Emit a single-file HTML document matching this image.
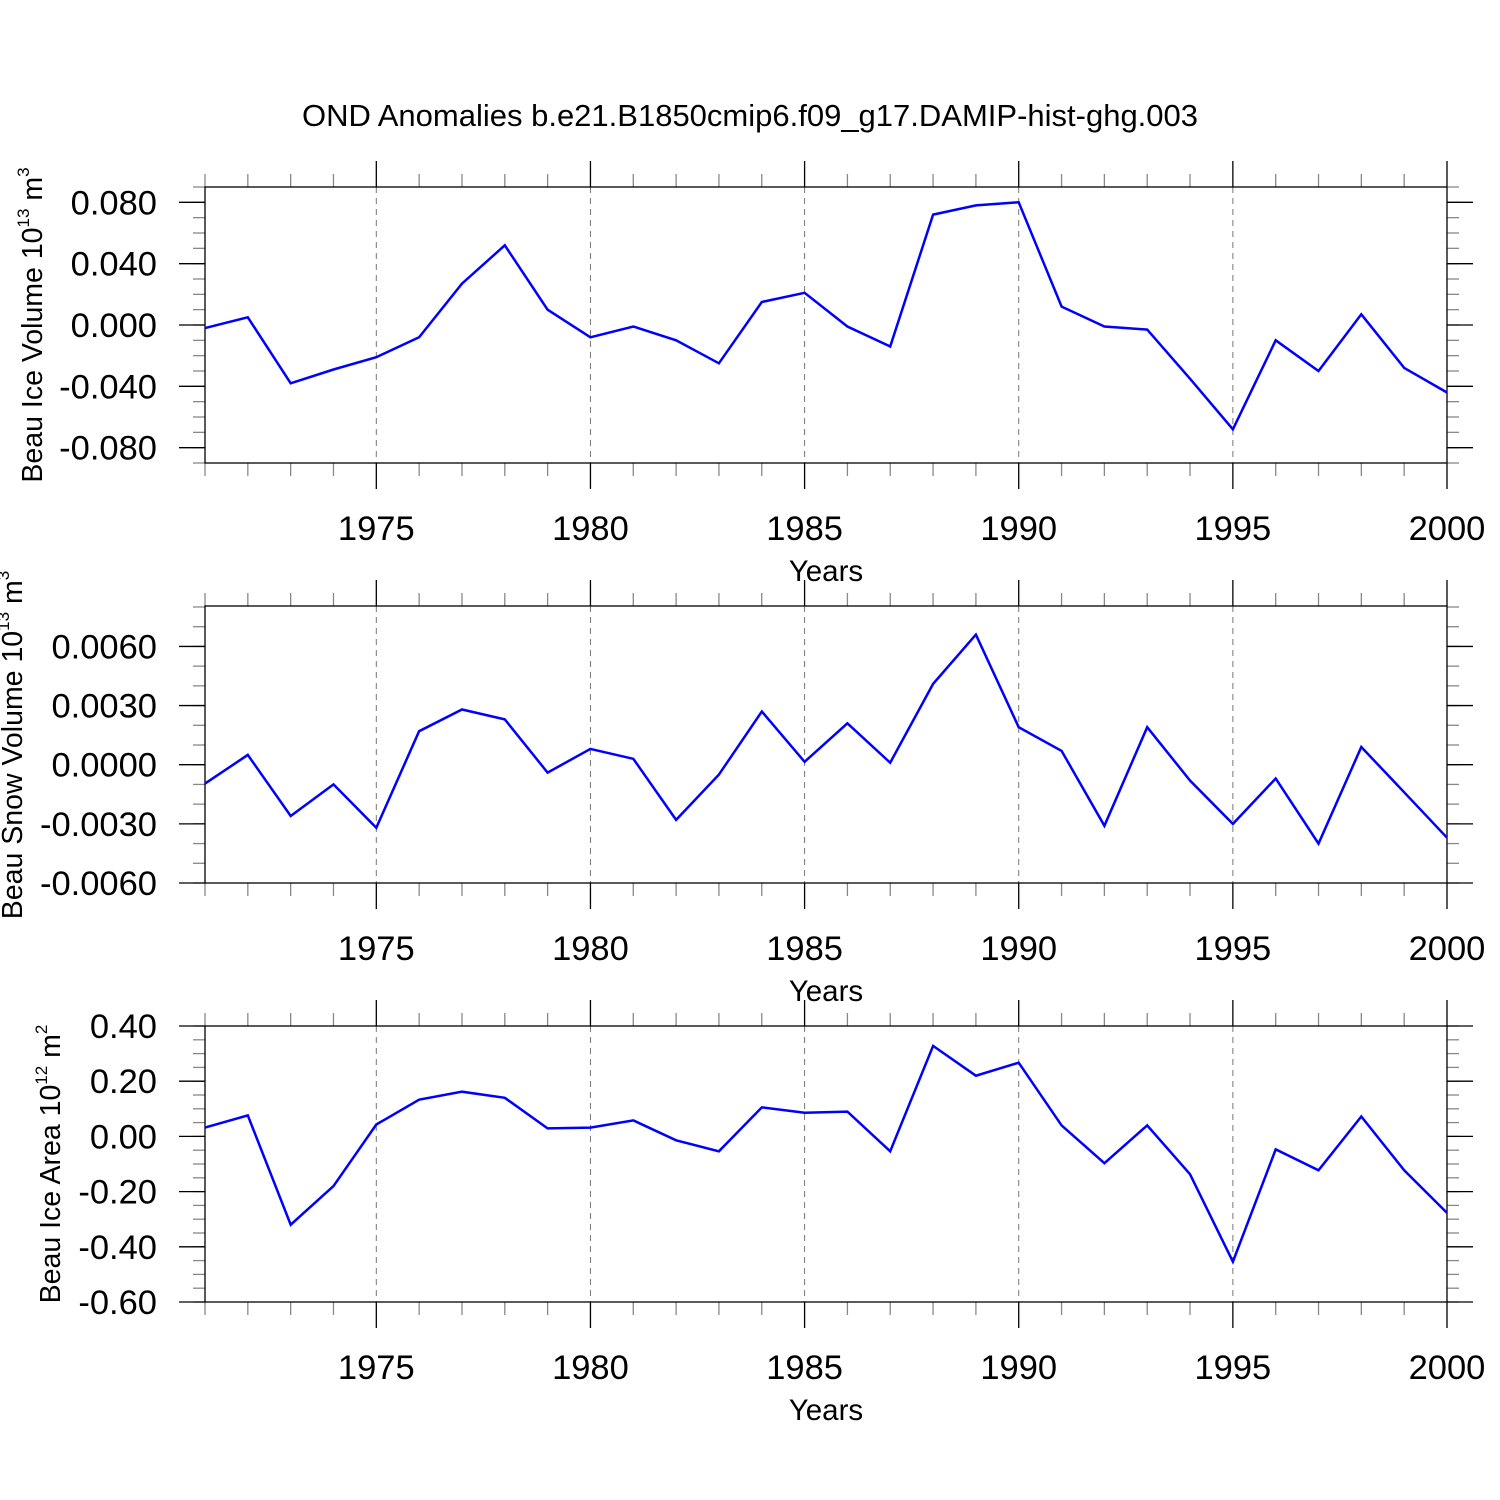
<!DOCTYPE html>
<html><head><meta charset="utf-8">
<style>
html,body{margin:0;padding:0;background:#fff;}
svg{display:block;font-family:"Liberation Sans",Arial,sans-serif;}
</style></head>
<body>
<svg id="chart" width="1500" height="1500" viewBox="0 0 1500 1500" xmlns="http://www.w3.org/2000/svg">
<rect width="1500" height="1500" fill="#fff"/>
<text x="750" y="126" text-anchor="middle" font-size="31">OND Anomalies b.e21.B1850cmip6.f09_g17.DAMIP-hist-ghg.003</text>
</svg>
<script>
const years = [1971,1972,1973,1974,1975,1976,1977,1978,1979,1980,1981,1982,1983,1984,1985,1986,1987,1988,1989,1990,1991,1992,1993,1994,1995,1996,1997,1998,1999,2000];
const iceVolume = [-0.002,0.005,-0.038,-0.029,-0.021,-0.008,0.027,0.052,0.010,-0.008,-0.001,-0.010,-0.025,0.015,0.021,-0.001,-0.014,0.072,0.078,0.080,0.012,-0.001,-0.003,-0.035,-0.068,-0.010,-0.030,0.007,-0.028,-0.044];
const snowVolume = [-0.00096,0.0005,-0.0026,-0.0010,-0.0032,0.0017,0.0028,0.0023,-0.0004,0.0008,0.0003,-0.0028,-0.0005,0.0027,0.00015,0.0021,0.0001,0.0041,0.0066,0.0019,0.0007,-0.0031,0.0019,-0.0008,-0.0030,-0.0007,-0.0040,0.0009,-0.0014,-0.0037];
const iceArea = [0.032,0.076,-0.32,-0.18,0.043,0.133,0.162,0.14,0.029,0.032,0.058,-0.014,-0.054,0.105,0.086,0.09,-0.054,0.328,0.22,0.267,0.04,-0.097,0.04,-0.137,-0.454,-0.047,-0.123,0.072,-0.123,-0.277];
const xTickLabels = [1975,1980,1985,1990,1995,2000];
const iceVolTicks = [0.08,0.04,0,-0.04,-0.08];
const iceVolTickLabels = ["0.080","0.040","0.000","-0.040","-0.080"];
const snowTicks = [0.006,0.003,0,-0.003,-0.006];
const snowTickLabels = ["0.0060","0.0030","0.0000","-0.0030","-0.0060"];
const areaTicks = [0.4,0.2,0,-0.2,-0.4,-0.6];
const areaTickLabels = ["0.40","0.20","0.00","-0.20","-0.40","-0.60"];

const NS="http://www.w3.org/2000/svg";
const svg=document.getElementById('chart');
function mk(tag,attrs,parent){const e=document.createElementNS(NS,tag);for(const k in attrs)e.setAttribute(k,attrs[k]);(parent||svg).appendChild(e);return e;}
const X0=205,X1=1447,YR0=1971,YR1=2000;
function xs(v){return X0+(v-YR0)*(X1-X0)/(YR1-YR0);}

function panel(cfg){
  const g=mk('g',{});
  
  
  const ys=v=>cfg.top+(cfg.ymax-v)*(cfg.bot-cfg.top)/(cfg.ymax-cfg.ymin);
  xTickLabels.forEach(yr=>{
    if(yr<YR1){const l=mk('line',{x1:xs(yr),x2:xs(yr),y1:cfg.top,y2:cfg.bot,stroke:'#777','stroke-width':1,'stroke-dasharray':'6,5'},g);
    
    }
  });
  for(let yr=YR0;yr<=YR1;yr++){
    const maj=yr%5===0, x=xs(yr), c=maj?'#000':'#888';
    mk('line',{x1:x,x2:x,y1:cfg.top,y2:cfg.top-(maj?26:13),stroke:c,'stroke-width':1.3},g);
    mk('line',{x1:x,x2:x,y1:cfg.bot,y2:cfg.bot+(maj?26:13),stroke:c,'stroke-width':1.3},g);
  }
  for(let v=cfg.ymin;v<=cfg.ymax+1e-9;v+=cfg.minor){
    const y=ys(v); if(y<cfg.top-0.5||y>cfg.bot+0.5) continue;
    mk('line',{x1:X0,x2:X0-12,y1:y,y2:y,stroke:'#888','stroke-width':1.3},g);
    mk('line',{x1:X1,x2:X1+12,y1:y,y2:y,stroke:'#888','stroke-width':1.3},g);
  }
  cfg.ticks.forEach((v,i)=>{
    const y=ys(v);
    mk('line',{x1:X0,x2:X0-26,y1:y,y2:y,stroke:'#000','stroke-width':1.3},g);
    mk('line',{x1:X1,x2:X1+26,y1:y,y2:y,stroke:'#000','stroke-width':1.3},g);
    const t=mk('text',{x:157,y:y+12,'text-anchor':'end','font-size':34.5},g);
    t.textContent=cfg.labels[i];
    
    
  });
  xTickLabels.forEach(yr=>{
    const t=mk('text',{x:xs(yr),y:cfg.bot+77,'text-anchor':'middle','font-size':34.5},g);
    t.textContent=yr;
    
    
  });
  const xt=mk('text',{x:826,y:cfg.bot+118,'text-anchor':'middle','font-size':29.5},g);
  xt.textContent='Years';
  
  
  const box=mk('rect',{x:X0,y:cfg.top,width:X1-X0,height:cfg.bot-cfg.top,fill:'none',stroke:'#000','stroke-width':1.3},g);
  
  
  const pts=years.map((yr,i)=>xs(yr).toFixed(1)+','+ys(cfg.data[i]).toFixed(1)).join(' ');
  const pl=mk('polyline',{points:pts,fill:'none',stroke:'#0000ff','stroke-width':2.5,'stroke-linejoin':'miter'},g);
  
  
  const yt=mk('text',{transform:`translate(${cfg.titleX},${cfg.titleY}) rotate(-90)`,'text-anchor':'middle','font-size':28.5},g);
  yt.innerHTML=cfg.title+' 10<tspan font-size="17" dy="-13">'+cfg.exp+'</tspan><tspan dy="13"> m</tspan><tspan font-size="17" dy="-13">'+cfg.unitExp+'</tspan>';
  
  
}
panel({name:'ice-volume-panel',top:187,bot:463,ymin:-0.09,ymax:0.09,ticks:iceVolTicks,labels:iceVolTickLabels,minor:0.01,data:iceVolume,title:'Beau Ice Volume',exp:'13',unitExp:'3',titleX:42,titleY:325});
panel({name:'snow-volume-panel',top:606,bot:883,ymin:-0.006,ymax:0.00805,ticks:snowTicks,labels:snowTickLabels,minor:0.001,data:snowVolume,title:'Beau Snow Volume',exp:'13',unitExp:'3',titleX:22,titleY:745});
panel({name:'ice-area-panel',top:1026,bot:1302,ymin:-0.6,ymax:0.4,ticks:areaTicks,labels:areaTickLabels,minor:0.05,data:iceArea,title:'Beau Ice Area',exp:'12',unitExp:'2',titleX:60,titleY:1164});
</script>
</body></html>
